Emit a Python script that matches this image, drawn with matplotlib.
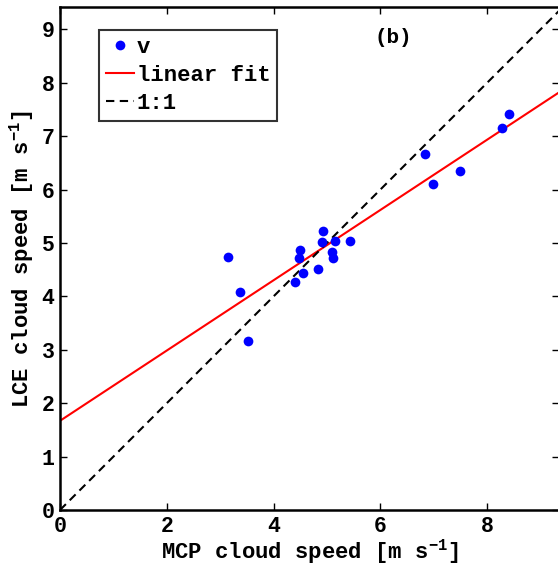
import matplotlib
matplotlib.use("Agg")
import matplotlib.pyplot as plt
import numpy as np

plt.rcParams['font.family'] = ['Liberation Mono', 'DejaVu Sans']
plt.rcParams['font.weight'] = 'bold'
plt.rcParams['mathtext.fontset'] = 'custom'
plt.rcParams['mathtext.rm'] = 'Liberation Mono:bold'
plt.rcParams['mathtext.it'] = 'Liberation Mono:bold'
plt.rcParams['mathtext.bf'] = 'Liberation Mono:bold'

# data
mcp_speed = [3.15, 3.38, 3.52, 4.40, 4.48, 4.50, 4.56, 4.84, 4.90, 4.92,
             5.15, 5.10, 5.12, 5.43, 6.84, 6.99, 7.50, 8.27, 8.41]
lce_speed = [4.73, 4.09, 3.16, 4.27, 4.71, 4.87, 4.44, 4.52, 5.01, 5.23,
             5.04, 4.84, 4.71, 5.04, 6.67, 6.11, 6.35, 7.16, 7.41]
fit_slope = 0.658
fit_intercept = 1.67
x_ticks = [0, 2, 4, 6, 8]
y_ticks = [0, 1, 2, 3, 4, 5, 6, 7, 8, 9]

fig = plt.figure(figsize=(5.58, 5.66), dpi=100)
ax = fig.add_axes([0.1075, 0.0989, 0.8948, 0.888])

xmax, ymax = 9.35, 9.41
ax.set_xlim(0, xmax)
ax.set_ylim(0, ymax)

ax.plot(mcp_speed, lce_speed, 'o', color='#0000ff', markersize=7,
        markeredgewidth=0, label='v', zorder=3)
xf = np.array([0, xmax])
ax.plot(xf, fit_intercept + fit_slope * xf, '-', color='red', lw=1.5,
        label='linear fit')
x11 = np.array([0, 10])
ax.plot(x11, x11, '--', color='black', lw=1.5, dashes=(4, 2.6), label='1:1')

ax.text(6.24, 8.84, '(b)', fontsize=15, fontweight='bold', ha='center',
        va='center')

ax.set_xticks(x_ticks)
ax.set_yticks(y_ticks)
ax.tick_params(direction='in', length=5, width=1, top=True, right=True,
               labelsize=15.5)
ax.tick_params(axis='x', pad=4.5)
ax.tick_params(axis='y', pad=4)
for lab in ax.get_xticklabels() + ax.get_yticklabels():
    lab.set_fontweight('bold')
for s in ax.spines.values():
    s.set_linewidth(1.8)

ax.set_xlabel(r'MCP cloud speed [m s$^{-1}$]', fontsize=16, fontweight='bold',
              labelpad=0)
ax.set_ylabel(r'LCE cloud speed [m s$^{-1}$]', fontsize=16, fontweight='bold',
              labelpad=4)

leg = ax.legend(loc='upper left', bbox_to_anchor=(0.078, 0.955), fontsize=16,
                frameon=True, fancybox=False, edgecolor='black',
                handlelength=1.3, handletextpad=0.1, borderpad=0.3,
                labelspacing=0.32, borderaxespad=0)
leg.get_frame().set_linewidth(1.5)
for t in leg.get_texts():
    t.set_fontweight('bold')

fig.savefig('out.png', dpi=100)
